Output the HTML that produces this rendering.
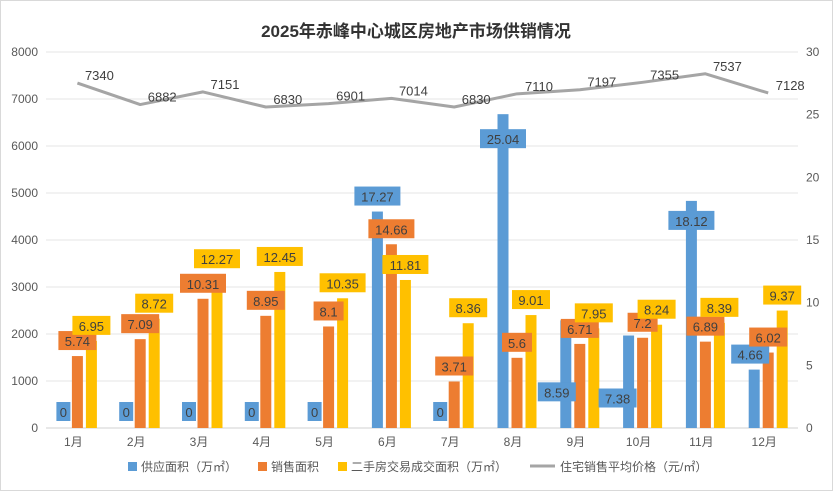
<!DOCTYPE html>
<html><head><meta charset="utf-8"><style>
body{margin:0;background:#fff;font-family:"Liberation Sans","Noto Sans CJK SC",sans-serif}
</style></head><body>
<svg id="c" width="833" height="491" xmlns="http://www.w3.org/2000/svg" font-family="Liberation Sans, Noto Sans CJK SC, sans-serif">
<rect x="0.5" y="0.5" width="832" height="490" fill="#fff" stroke="#d9d9d9"/>
<text x="416" y="37" text-anchor="middle" font-size="17" font-weight="bold" fill="#333">2025年赤峰中心城区房地产市场供销情况</text>
<g id="grid"></g><g id="bars"></g><g id="line"></g><g id="labels"></g><g id="axes"></g>
<g id="legend" font-size="12" fill="#595959">
<rect x="128" y="462" width="9" height="9" fill="#5b9bd5"/>
<text x="141" y="471">供应面积（万㎡）</text>
<rect x="258" y="462" width="9" height="9" fill="#ed7d31"/>
<text x="271" y="471">销售面积</text>
<rect x="338" y="462" width="9" height="9" fill="#ffc000"/>
<text x="351" y="471">二手房交易成交面积（万㎡）</text>
<line x1="530" y1="466" x2="555" y2="466" stroke="#a5a5a5" stroke-width="3"/>
<text x="560" y="471">住宅销售平均价格（元/㎡）</text>
</g>
</svg>
<script>
const months=['1月','2月','3月','4月','5月','6月','7月','8月','9月','10月','11月','12月'];
const supply=[0,0,0,0,0,17.27,0,25.04,8.59,7.38,18.12,4.66];
const sales=[5.74,7.09,10.31,8.95,8.1,14.66,3.71,5.6,6.71,7.2,6.89,6.02];
const secondhand=[6.95,8.72,12.27,12.45,10.35,11.81,8.36,9.01,7.95,8.24,8.39,9.37];
const price=[7340,6882,7151,6830,6901,7014,6830,7110,7197,7355,7537,7128];
const leftTicks=[0,1000,2000,3000,4000,5000,6000,7000,8000];
const rightTicks=[0,5,10,15,20,25,30];
const supplyLabelDy=[0,0,0,0,0,0,0,40,87,78,35,0];
const supplyLabelDx=[0,0,0,0,0,0,0,0,-9,-11,0,-4];
const NS='http://www.w3.org/2000/svg';
const X0=46,BW=62.8,Y0=428,YT=52;
const xc=i=>X0+BW*(i+0.5);
const yL=v=>Y0-(v/8000)*(Y0-YT);
const yR=v=>Y0-(v/30)*(Y0-YT);
function mk(p,t,a,txt){const e=document.createElementNS(NS,t);for(const k in a)e.setAttribute(k,a[k]);if(txt!==undefined)e.textContent=txt;document.getElementById(p).appendChild(e);return e;}
leftTicks.forEach(v=>{
 const g=mk('grid','line',{x1:X0,x2:798,y1:yL(v),y2:yL(v),stroke:v?'#e6e6e6':'#d0d0d0'});
 
 
 const t=mk('axes','text',{x:38,y:yL(v)+4,'text-anchor':'end','font-size':12,fill:'#595959'},v);
 
 
});
rightTicks.forEach(v=>{
 const t=mk('axes','text',{x:806,y:yR(v)+4,'font-size':12,fill:'#595959'},v);
 
 
});
months.forEach((m,i)=>{
 const t=mk('axes','text',{x:xc(i)-4,y:446,'text-anchor':'middle','font-size':12,fill:'#595959'},m);
 
 
});
const series=[[supply,'#5b9bd5',-19.5,'supply'],[sales,'#ed7d31',-5.5,'sales'],[secondhand,'#ffc000',8.5,'secondhand']];
series.forEach(([arr,col,off,nm])=>{
 arr.forEach((v,i)=>{
  const x=xc(i)+off,y=yR(v);
  const r=mk('bars','rect',{x:x,y:y,width:11,height:Y0-y,fill:col});
  
  
  const txt=String(v),w=txt.length*8+6;
  let cx=x+5.5,ly=v===0?Y0-26:y-25;
  if(nm==='supply'){ly+=supplyLabelDy[i];cx+=supplyLabelDx[i];}
  const b=mk('labels','rect',{x:cx-w/2,y:ly,width:w,height:19,fill:col});
  
  
  const t=mk('labels','text',{x:cx,y:ly+15,'text-anchor':'middle','font-size':13,fill:'#404040'},txt);
  
  
 });
});
const pl=mk('line','polyline',{points:price.map((v,i)=>xc(i)+','+yL(v)).join(' '),fill:'none',stroke:'#a5a5a5','stroke-width':3,'stroke-linejoin':'round'});


price.forEach((v,i)=>{
 const t=mk('line','text',{x:xc(i)+22,y:yL(v)-3,'text-anchor':'middle','font-size':13,fill:'#404040'},v);
 
 
});
</script>
</body></html>
